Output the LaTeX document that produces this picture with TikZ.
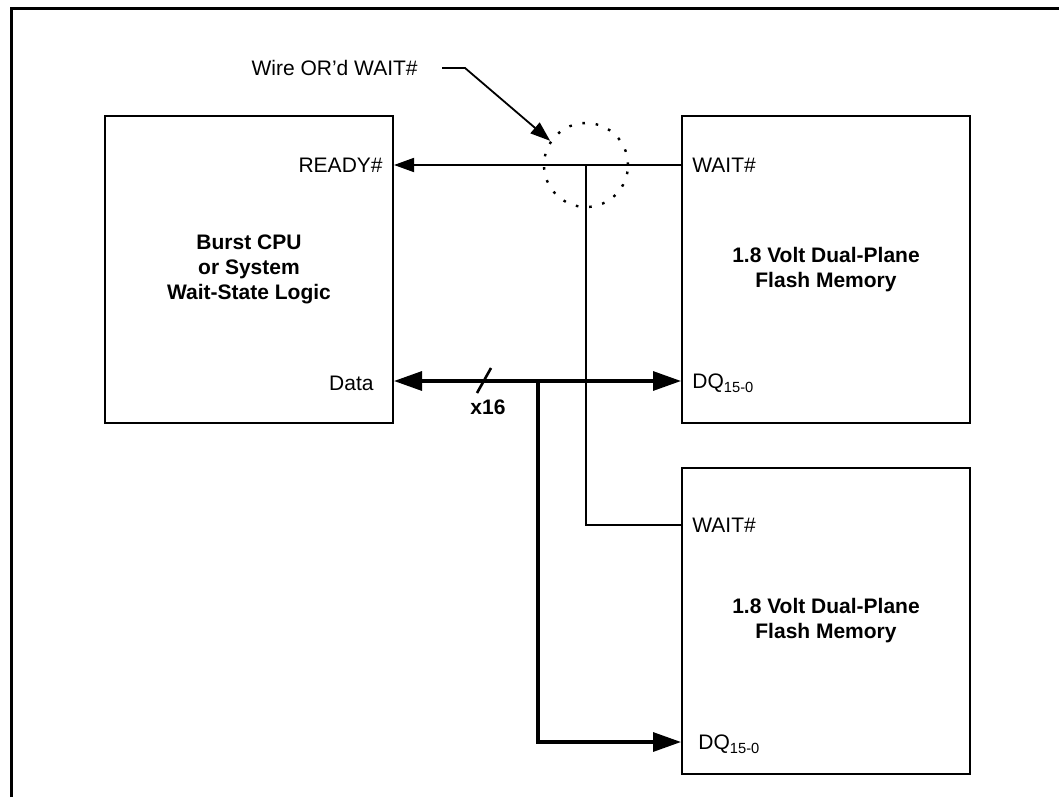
\documentclass[tikz,border=0pt]{standalone}
\usepackage{fontspec}
\setmainfont{Liberation Sans}
\usetikzlibrary{arrows.meta, positioning, calc}

\begin{document}
\begin{tikzpicture}[
    x=0.5pt, y=-0.5pt,
    box/.style={
        rectangle, draw=black, line width=1pt,
        minimum width=144pt, minimum height=153pt, inner sep=0pt,
        align=center, font=\fontsize{10.5}{12.5}\selectfont\bfseries
    },
    pinlabel/.style={inner sep=0pt, font=\fontsize{10.5}{12.5}\selectfont},
    sigline/.style={line width=0.9pt},
    sigarrow/.style={sigline, -{Triangle[length=10pt, width=7pt]}},
    busline/.style={line width=1.6pt},
    busarrow/.style={busline, -{Triangle[length=14pt, width=9.5pt]}},
    ring/.style={circle, draw, line width=1.2pt, dash pattern=on 1.3pt off 5.4pt,
        minimum size=42pt, inner sep=0pt},
    frameline/.style={line width=1.5pt}
]
\useasboundingbox (0,0) rectangle (1059,797);

% Outer frame
\draw[frameline] (11,797) -- (11,9) -- (1059,9);

% Blocks
\node[box] (cpu) at (249,269.5) {Burst CPU\\or System\\Wait-State Logic};
\node[box] (flash1) at (826,269.5) {1.8 Volt Dual-Plane\\Flash Memory};
\node[box] (flash2) at (826,621) {1.8 Volt Dual-Plane\\Flash Memory};

% Junctions
\coordinate (waitjoin) at (586,165);
\coordinate (waitjoin2) at (586,525);
\coordinate (busjoin) at (538,381);
\coordinate (busjoin2) at (538,742);

% Pin labels
\node[pinlabel, anchor=east] (readylbl) at ([xshift=-5.5pt]cpu.east |- waitjoin) {READY\#};
\node[pinlabel, anchor=east] (datalbl) at ([xshift=-10pt, yshift=-1pt]cpu.east |- busjoin) {Data};
\node[pinlabel, anchor=west] (wait1lbl) at ([xshift=5.5pt]flash1.west |- waitjoin) {WAIT\#};
\node[pinlabel, anchor=base west] (dq1lbl) at ([xshift=5.5pt, yshift=-3.9pt]flash1.west |- busjoin) {DQ\textsubscript{15-0}};
\node[pinlabel, anchor=west] (wait2lbl) at ([xshift=5.5pt]flash2.west |- waitjoin2) {WAIT\#};
\node[pinlabel, anchor=base west] (dq2lbl) at ([xshift=8.5pt, yshift=-3.9pt]flash2.west |- busjoin2) {DQ\textsubscript{15-0}};

% WAIT# wiring
\draw[sigarrow] (flash1.west |- waitjoin) -- (cpu.east |- waitjoin);
\draw[sigline] (waitjoin) -- (waitjoin2) -- (flash2.west |- waitjoin2);

% Data bus
\draw[busline, {Triangle[length=14pt, width=9.5pt]}-{Triangle[length=14pt, width=9.5pt]}]
    (cpu.east |- busjoin) -- (flash1.west |- busjoin);
\draw[busarrow] (busjoin) -- (busjoin2) -- (flash2.west |- busjoin2);
\draw[line width=1.3pt] (477,393) -- (491,368);
\node[pinlabel, font=\fontsize{10.5}{12.5}\selectfont\bfseries] (buswidth) at (488,407) {x16};

% Wire-OR callout
\node[ring] (orring) at (waitjoin) {};
\node[pinlabel, anchor=east] (note) at (418,68) {Wire OR’d WAIT\#};
\draw[sigarrow] ([xshift=12pt]note.east) -- ++(23,0) -- (orring.146);

\end{tikzpicture}
\end{document}
